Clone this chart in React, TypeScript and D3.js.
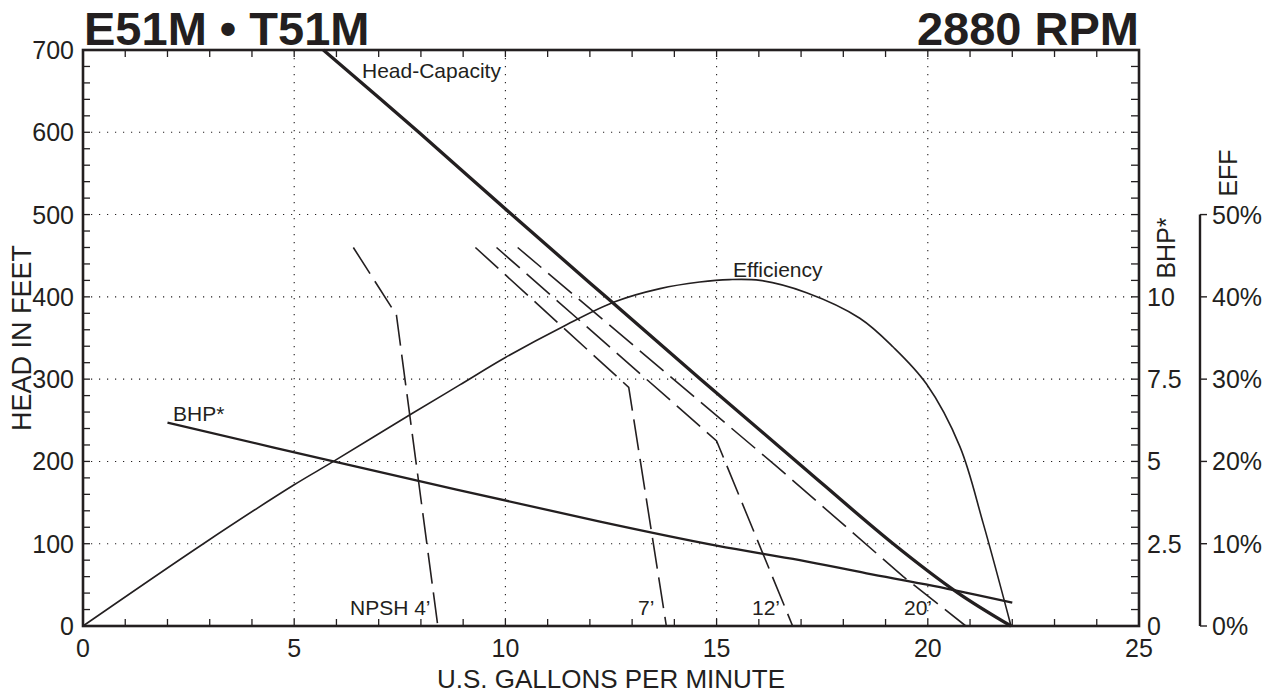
import React from 'react';
import * as d3 from 'd3';

// ---- data ----
const xMajorTicks = [0, 5, 10, 15, 20, 25];
const headTicks = [0, 100, 200, 300, 400, 500, 600, 700];
const bhpTicks = [0, 2.5, 5, 7.5, 10];
const effTicks = [0, 10, 20, 30, 40, 50];

const headGpm = [5.69, 7.95, 10.15, 12.38, 14.62, 16.89, 19.18, 20.72, 21.97];
const headFt = [700, 600, 500, 400, 300, 200, 100, 40, 0];

const effGpm = [0, 2.85, 4.98, 5.93, 7.78, 8.92, 9.99, 11.37, 12.59, 13.66, 14.6, 15.3, 16.03, 17.13, 18.39, 19.18, 19.97, 20.76, 21.31, 21.97];
const effPct = [0, 10, 17.1, 20, 25.8, 29.3, 32.6, 36.4, 39.4, 41.0, 41.8, 42.1, 42.0, 40.5, 37.4, 33.9, 29.4, 21.8, 12.5, 0];

const bhpGpm = [2, 5.93, 12.24, 15, 16.97, 18.55, 20.13, 22];
const bhpVal = [6.18, 5.0, 3.17, 2.44, 2.0, 1.6, 1.22, 0.71];

const npsh4Gpm = [6.4, 7.42, 8.4];
const npsh4Ft = [460, 378, 0];
const npsh7Gpm = [9.29, 12.92, 13.81];
const npsh7Ft = [460, 290, 0];
const npsh12Gpm = [9.79, 15.0, 16.8];
const npsh12Ft = [460, 225, 0];
const npsh20Gpm = [10.29, 16.42, 19.42, 20.9];
const npsh20Ft = [460, 194, 60, 0];

const titleLeft = 'E51M • T51M';
const titleRight = '2880 RPM';

const INK = '#231f20';
const FONT = '"Liberation Sans", Arial, Helvetica, sans-serif';

export default function App() {
  const x = d3.scaleLinear().domain([0, 25]).range([83, 1139]);
  const y = d3.scaleLinear().domain([0, 700]).range([626, 50]);
  const yBhp = d3.scaleLinear().domain([0, 17.5]).range([626, 50]);
  const yEff = d3.scaleLinear().domain([0, 70]).range([626, 50]);

  const smooth = (xs: number[], ys: number[], ys2: (v: number) => number) =>
    d3.line<number>()
      .x((_, i) => x(xs[i]))
      .y((_, i) => ys2(ys[i]))
      .curve(d3.curveCatmullRom.alpha(0.5))(xs) || '';
  const straight = (xs: number[], ys: number[]) =>
    d3.line<number>()
      .x((_, i) => x(xs[i]))
      .y((_, i) => y(ys[i]))(xs) || '';

  const minorX = d3.range(0, 26, 1);
  const minorY = d3.range(0, 701, 20);
  const [x0, x1] = x.range();
  const [yb, yt] = y.range();
  const effX = 1200;
  const LBL = 21;

  return (
    <svg width={1278} height={696} style={{ position: 'absolute', left: 0, top: 0, background: '#fff' }} fontFamily={FONT}>
      <rect x={0} y={0} width={1278} height={696} fill="#fff" />
      {/* gridlines */}
      {[5, 10, 15, 20].map(v => (
        <line key={'gx' + v} x1={x(v)} x2={x(v)} y1={yt} y2={yb} stroke={INK} strokeWidth={1.1} strokeDasharray="1.2,6.8" />
      ))}
      {[100, 200, 300, 400, 500, 600].map(v => (
        <line key={'gy' + v} x1={x0} x2={x1} y1={y(v)} y2={y(v)} stroke={INK} strokeWidth={1.1} strokeDasharray="1.2,6.8" />
      ))}
      {/* minor ticks */}
      {minorX.map(v => (
        <g key={'tx' + v}>
          <line x1={x(v)} x2={x(v)} y1={yb} y2={yb - 7} stroke={INK} strokeWidth={1.3} />
          <line x1={x(v)} x2={x(v)} y1={yt} y2={yt + 7} stroke={INK} strokeWidth={1.3} />
        </g>
      ))}
      {minorY.map(v => (
        <g key={'ty' + v}>
          <line x1={x0} x2={x0 + 7} y1={y(v)} y2={y(v)} stroke={INK} strokeWidth={1.3} />
          <line x1={x1} x2={x1 - 8} y1={y(v)} y2={y(v)} stroke={INK} strokeWidth={1.3} />
        </g>
      ))}
      {/* frame */}
      <rect x={x0} y={yt} width={x1 - x0} height={yb - yt} fill="none" stroke={INK} strokeWidth={2.6} />

      {/* curves */}
      <path d={smooth(effGpm, effPct, yEff)} fill="none" stroke={INK} strokeWidth={1.6} />
      <path d={smooth(bhpGpm, bhpVal, yBhp)} fill="none" stroke={INK} strokeWidth={2.3} />
      {[
        [npsh4Gpm, npsh4Ft],
        [npsh7Gpm, npsh7Ft],
        [npsh12Gpm, npsh12Ft],
        [npsh20Gpm, npsh20Ft],
      ].map(([g, f], i) => (
        <path key={'n' + i} d={straight(g, f)} fill="none" stroke={INK} strokeWidth={1.6} strokeDasharray="31,9" />
      ))}
      <path d={smooth(headGpm, headFt, y)} fill="none" stroke={INK} strokeWidth={3.3} />

      {/* curve labels */}
      <text x={362} y={78} fontSize={LBL} fill={INK}>Head-Capacity</text>
      <text x={733} y={277} fontSize={LBL} fill={INK}>Efficiency</text>
      <text x={173} y={421} fontSize={LBL} fill={INK}>BHP*</text>
      <text x={350} y={615} fontSize={LBL} fill={INK}>NPSH 4’</text>
      <text x={638} y={615} fontSize={LBL} fill={INK}>7’</text>
      <text x={752} y={615} fontSize={LBL} fill={INK}>12’</text>
      <text x={904} y={615} fontSize={LBL} fill={INK}>20’</text>

      {/* left axis labels */}
      {headTicks.map(v => (
        <text key={'ly' + v} x={74} y={y(v) + 9} textAnchor="end" fontSize={25} fill={INK}>{v}</text>
      ))}
      {/* bottom axis labels */}
      {xMajorTicks.map(v => (
        <text key={'lx' + v} x={x(v)} y={657} textAnchor="middle" fontSize={25} fill={INK}>{v}</text>
      ))}
      {/* right BHP labels */}
      {bhpTicks.map(v => (
        <text key={'lb' + v} x={1147} y={yBhp(v) + 9} textAnchor="start" fontSize={25} fill={INK}>{v}</text>
      ))}
      <text transform={`translate(1175,248) rotate(-90)`} textAnchor="middle" fontSize={25} fill={INK}>BHP*</text>

      {/* efficiency axis */}
      <line x1={effX} x2={effX} y1={yEff(50)} y2={yEff(0)} stroke={INK} strokeWidth={2.4} />
      {effTicks.map(v => (
        <g key={'le' + v}>
          <line x1={effX} x2={effX + 7} y1={yEff(v)} y2={yEff(v)} stroke={INK} strokeWidth={1.4} />
          <text x={1212} y={yEff(v) + 9} fontSize={25} fill={INK}>{v}%</text>
        </g>
      ))}
      <text transform={`translate(1237,173) rotate(-90)`} textAnchor="middle" fontSize={25} fill={INK}>EFF</text>

      {/* axis titles */}
      <text x={(x0 + x1) / 2} y={688} textAnchor="middle" fontSize={26} fill={INK}>U.S. GALLONS PER MINUTE</text>
      <text transform={`translate(31,338) rotate(-90)`} textAnchor="middle" fontSize={27} fill={INK}>HEAD IN FEET</text>

      {/* titles */}
      <text x={84} y={45} fontSize={47} fontWeight="bold" fill={INK}>{titleLeft}</text>
      <text x={1139} y={45} textAnchor="end" fontSize={47} fontWeight="bold" fill={INK}>{titleRight}</text>
    </svg>
  );
}
